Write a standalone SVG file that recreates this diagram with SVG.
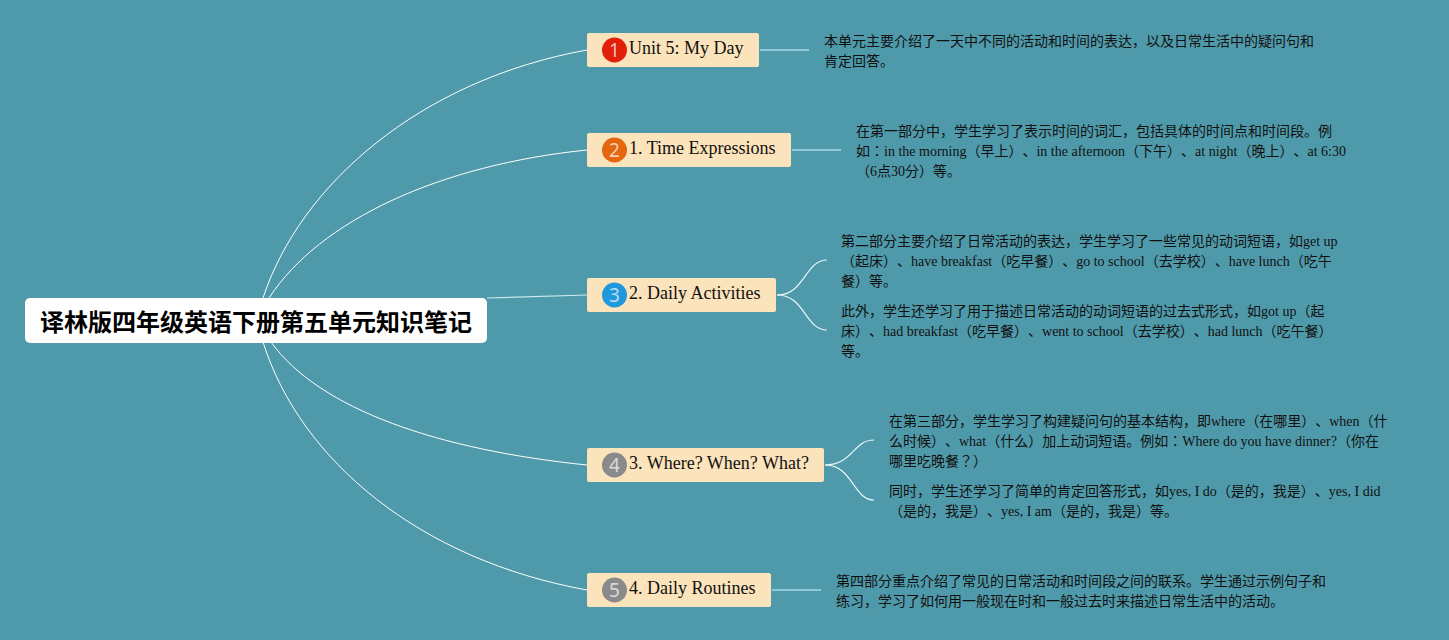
<svg xmlns="http://www.w3.org/2000/svg" width="1449" height="640" viewBox="0 0 1449 640">
<style>
text{text-spacing-trim:space-all}
.c{fill:none;stroke:#fff;stroke-width:1}
.m{fill:none;stroke:#cfe8ee;stroke-width:1.200}
.l{fill:none;stroke:#a9d9ea;stroke-width:1.500}
.s{fill:none;stroke:#eaf7fa;stroke-width:1.200}
.b{fill:#fbe3bb}
.t{font-family:"Liberation Serif","Noto Sans CJK JP",serif;font-size:18px;fill:#111}
.d{font-family:"Liberation Serif","Noto Sans CJK JP",serif;font-size:14px;fill:#111}
.n{font-family:"Noto Sans","DejaVu Sans",sans-serif;font-size:19px;fill:#fff;fill-opacity:.7;text-anchor:middle}
.r{font-family:"Liberation Sans","Noto Sans CJK JP",sans-serif;font-size:24px;font-weight:700;fill:#000}
</style>
<rect width="1449" height="640" fill="#4f9aaa"/>
<g id="connectors">
<path class="c" d="M263 298C300 185 420 80 587 50"/>
<path class="c" d="M269 298C320 220 440 165 587 150"/>
<path class="m" d="M487 298L587 295"/>
<path class="c" d="M271 342C320 410 440 450 587 465"/>
<path class="c" d="M263 342C300 460 420 560 587 590"/>
<path class="l" d="M760 50H809"/>
<path class="l" d="M792 150H841"/>
<path class="s" d="M777 295C805 295 805 260 827 260"/>
<path class="s" d="M777 295C805 295 805 330 827 330"/>
<path class="s" d="M825 465C853 465 853 440 874 440"/>
<path class="s" d="M825 465C853 465 853 500 874 500"/>
<path class="l" d="M772 590H821"/>
</g>
<g id="root"><rect x="25" y="298" width="462" height="45" rx="5" fill="#fff"/><text class="r" x="40" y="331">译林版四年级英语下册第五单元知识笔记</text></g>
<g id="n1"><rect class="b" x="587" y="33" width="172" height="34" rx="2"/><circle cx="614.500" cy="50" r="12.500" fill="#e0200a"/><text class="n" x="614.500" y="56.500">1</text><text class="t" x="629" y="54">Unit 5: My Day</text></g>
<g id="n2"><rect class="b" x="587" y="133" width="204" height="34" rx="2"/><circle cx="614.500" cy="150" r="12.500" fill="#e4660f"/><text class="n" x="614.500" y="156.500">2</text><text class="t" x="629" y="154">1. Time Expressions</text></g>
<g id="n3"><rect class="b" x="587" y="278" width="189" height="34" rx="2"/><circle cx="614.500" cy="295" r="12.500" fill="#1f98de"/><text class="n" x="614.500" y="301.500">3</text><text class="t" x="629" y="299">2. Daily Activities</text></g>
<g id="n4"><rect class="b" x="587" y="448" width="237" height="34" rx="2"/><circle cx="614.500" cy="465" r="12.500" fill="#8a8a8a"/><text class="n" x="614.500" y="471.500">4</text><text class="t" x="629" y="469">3. Where? When? What?</text></g>
<g id="n5"><rect class="b" x="587" y="573" width="184" height="34" rx="2"/><circle cx="614.500" cy="590" r="12.500" fill="#8a8a8a"/><text class="n" x="614.500" y="596.500">5</text><text class="t" x="629" y="594">4. Daily Routines</text></g>
<g id="d1"><text class="d"><tspan x="824" y="46">本单元主要介绍了一天中不同的活动和时间的表达，以及日常生活中的疑问句和</tspan><tspan x="824" y="66">肯定回答。</tspan></text></g>
<g id="d2"><text class="d"><tspan x="856" y="136">在第一部分中，学生学习了表示时间的词汇，包括具体的时间点和时间段。例</tspan><tspan x="856" y="156">如：in the morning（早上）、in the afternoon（下午）、at night（晚上）、at 6:30</tspan><tspan x="856" y="176">（6点30分）等。</tspan></text></g>
<g id="d3"><text class="d"><tspan x="841" y="246">第二部分主要介绍了日常活动的表达，学生学习了一些常见的动词短语，如get up</tspan><tspan x="841" y="266">（起床）、have breakfast（吃早餐）、go to school（去学校）、have lunch（吃午</tspan><tspan x="841" y="286">餐）等。</tspan></text></g>
<g id="d4"><text class="d"><tspan x="841" y="316">此外，学生还学习了用于描述日常活动的动词短语的过去式形式，如got up（起</tspan><tspan x="841" y="336">床）、had breakfast（吃早餐）、went to school（去学校）、had lunch（吃午餐）</tspan><tspan x="841" y="356">等。</tspan></text></g>
<g id="d5"><text class="d"><tspan x="889" y="426">在第三部分，学生学习了构建疑问句的基本结构，即where（在哪里）、when（什</tspan><tspan x="889" y="446">么时候）、what（什么）加上动词短语。例如：Where do you have dinner?（你在</tspan><tspan x="889" y="466">哪里吃晚餐？）</tspan></text></g>
<g id="d6"><text class="d"><tspan x="889" y="496">同时，学生还学习了简单的肯定回答形式，如yes, I do（是的，我是）、yes, I did</tspan><tspan x="889" y="516">（是的，我是）、yes, I am（是的，我是）等。</tspan></text></g>
<g id="d7"><text class="d"><tspan x="836" y="586">第四部分重点介绍了常见的日常活动和时间段之间的联系。学生通过示例句子和</tspan><tspan x="836" y="606">练习，学习了如何用一般现在时和一般过去时来描述日常生活中的活动。</tspan></text></g>
</svg>
